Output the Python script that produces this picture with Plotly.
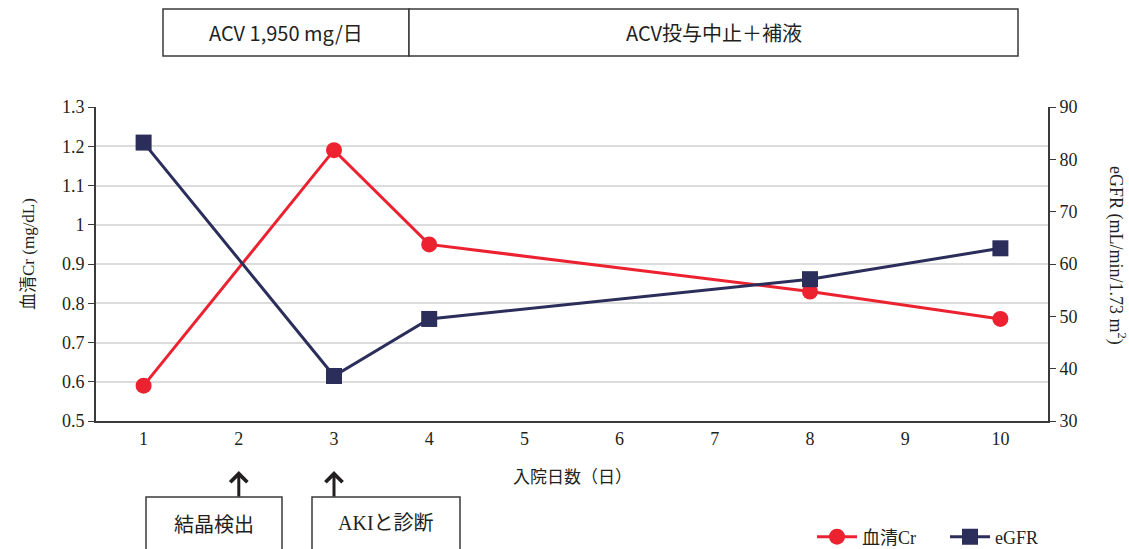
import plotly.graph_objects as go

# Hospital day categories shown on the x axis
days = ["1", "2", "3", "4", "5", "6", "7", "8", "9", "10"]

# Measurement days and values
cr_days = ["1", "3", "4", "8", "10"]
cr_values = [0.59, 1.19, 0.95, 0.83, 0.76]

egfr_days = ["1", "3", "4", "8", "10"]
egfr_values = [83.2, 38.6, 49.5, 57.1, 63.0]

cr_ticks = [0.5, 0.6, 0.7, 0.8, 0.9, 1.0, 1.1, 1.2, 1.3]
cr_ticktext = ["0.5", "0.6", "0.7", "0.8", "0.9", "1", "1.1", "1.2", "1.3"]
egfr_ticks = [30, 40, 50, 60, 70, 80, 90]

RED = "#EC2230"
NAVY = "#2B2D5A"
INK = "#231F20"
SERIF = "Liberation Serif, Times New Roman, Noto Sans CJK JP, serif"
GOTHIC = "Noto Sans CJK JP, Noto Sans, sans-serif"

fig = go.Figure()

fig.add_trace(go.Scatter(
    x=cr_days, y=cr_values, name="血清Cr", mode="lines+markers",
    line=dict(color=RED, width=3),
    marker=dict(symbol="circle", size=16, color=RED),
    yaxis="y",
))
fig.add_trace(go.Scatter(
    x=egfr_days, y=egfr_values, name="eGFR", mode="lines+markers",
    line=dict(color=NAVY, width=3),
    marker=dict(symbol="square", size=16, color=NAVY),
    yaxis="y2",
))

W, H = 1129, 549
L, R, T, B = 96, 81, 107, 128
pw, ph = W - L - R, H - T - B


def px(x):
    return (x - L) / pw


def py(y):
    return (H - B - y) / ph


shapes = []
annotations = []


def label(x, y, text, size, family=GOTHIC, angle=0):
    annotations.append(dict(xref="paper", yref="paper", x=x, y=y, text=text,
                            showarrow=False, xanchor="center", yanchor="middle",
                            textangle=angle,
                            font=dict(family=family, size=size, color=INK)))


# Treatment period boxes above the chart
box_top, box_bot = py(9), py(56)
for x0, x1, text in [(163, 409, "ACV 1,950 mg/日"), (409, 1018, "ACV投与中止＋補液")]:
    shapes.append(dict(type="rect", xref="paper", yref="paper",
                       x0=px(x0), x1=px(x1), y0=box_bot, y1=box_top,
                       line=dict(color="#3a3a3a", width=1.5), fillcolor="white"))
    label((px(x0) + px(x1)) / 2, (box_top + box_bot) / 2, text, 20)

# Event boxes below the chart, with arrows pointing at their day
for day, x0, x1, text, fam in [("2", 146, 282, "結晶検出", GOTHIC),
                               ("3", 312, 460, "AKIと診断", SERIF)]:
    shapes.append(dict(type="rect", xref="paper", yref="paper",
                       x0=px(x0), x1=px(x1), y0=py(565), y1=py(497),
                       line=dict(color="#3a3a3a", width=1.5), fillcolor="white"))
    label((px(x0) + px(x1)) / 2, py(523), text, 20, fam)
    annotations.append(dict(xref="x", yref="paper", x=days.index(day), y=py(471),
                            text="", showarrow=True, arrowhead=4, arrowsize=1.1,
                            arrowwidth=3, arrowcolor=INK, ax=0, ay=27))

# Axis titles
label(px(28), py(254), "血清Cr (mg/dL)", 17, SERIF, -90)
label(px(1117), py(255), "eGFR (mL/min/1.73 m<sup>2</sup>)", 18, SERIF, 90)
label(0.5, py(475), "入院日数（日）", 17)

fig.update_layout(
    width=W, height=H,
    margin=dict(l=L, r=R, t=T, b=B, autoexpand=False),
    paper_bgcolor="white", plot_bgcolor="white",
    showlegend=True,
    legend=dict(orientation="h", x=px(812), xanchor="left", y=py(537),
                yanchor="middle", font=dict(family=SERIF, size=18, color=INK),
                bgcolor="rgba(0,0,0,0)", itemwidth=40, tracegroupgap=0,
                entrywidth=78, entrywidthmode="pixels"),
    xaxis=dict(type="category", categoryorder="array", categoryarray=days,
               range=[-0.5, 9.5], showgrid=False, showline=True,
               linecolor="#3a3a3a", linewidth=2, ticks="",
               tickfont=dict(family=SERIF, size=18, color=INK)),
    yaxis=dict(range=[0.5, 1.3], tickvals=cr_ticks, ticktext=cr_ticktext,
               showgrid=True, gridcolor="#DCDCDC", gridwidth=1.5,
               showline=True, linecolor="#3a3a3a", linewidth=2,
               ticks="outside", ticklen=6, tickcolor="#3a3a3a",
               zeroline=False,
               tickfont=dict(family=SERIF, size=18, color=INK)),
    yaxis2=dict(range=[30, 90], tickvals=egfr_ticks, overlaying="y", side="right",
                showgrid=False, showline=True, linecolor="#3a3a3a", linewidth=2,
                ticks="outside", ticklen=6, tickcolor="#3a3a3a", zeroline=False,
                tickfont=dict(family=SERIF, size=18, color=INK)),
    shapes=shapes,
    annotations=annotations,
)

fig.write_html("out.html")
